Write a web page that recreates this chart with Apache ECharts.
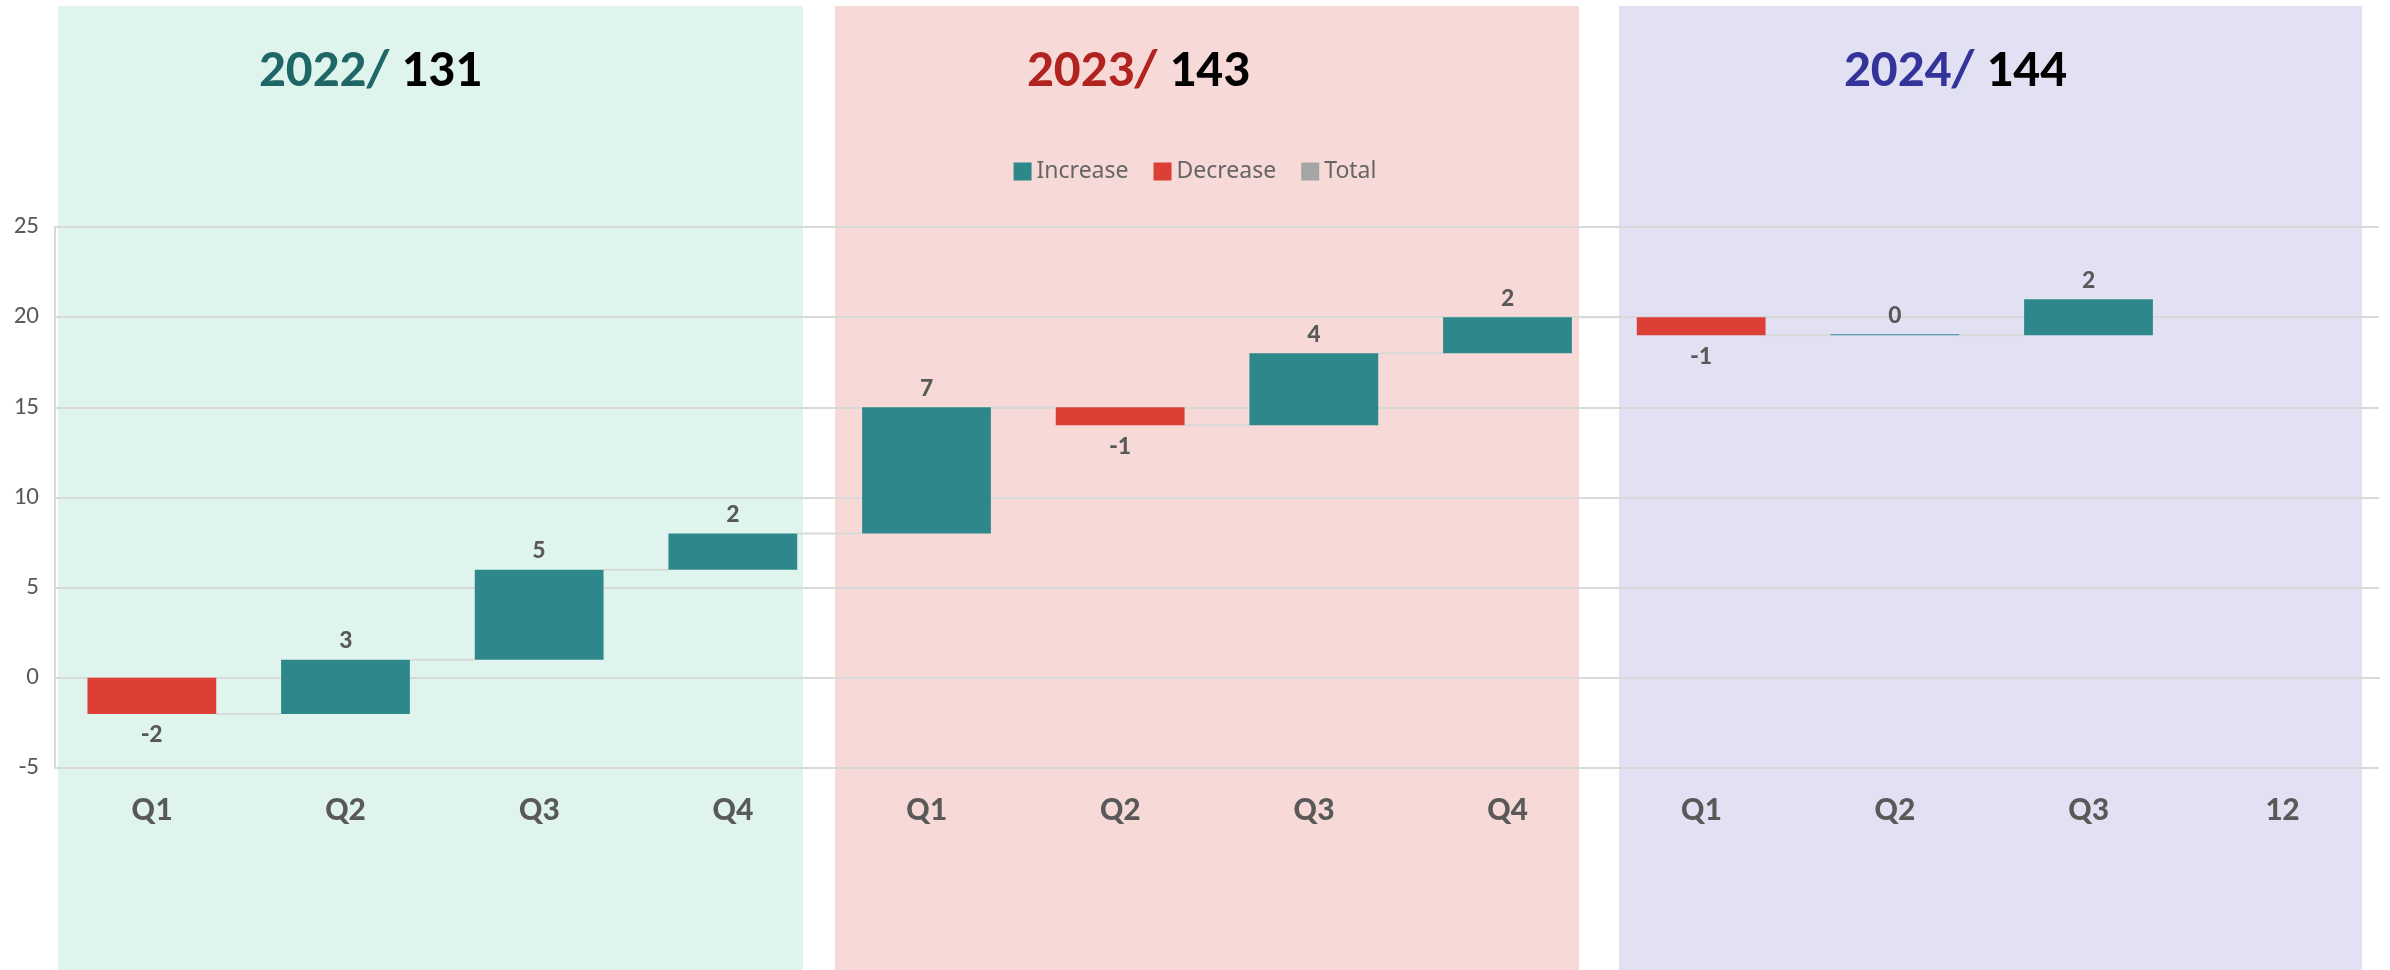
<!DOCTYPE html>
<html>
<head>
<meta charset="utf-8">
<script src="https://cdn.jsdelivr.net/npm/echarts@6/dist/echarts.min.js"></script>
<style>
  html, body { margin: 0; padding: 0; background: #fff; }
  #chart { width: 2390px; height: 970px; }
</style>
</head>
<body>
<div id="chart"></div>
<script>
// quarter labels along the x axis (last slot is an empty "12")
const categories = ['Q1', 'Q2', 'Q3', 'Q4', 'Q1', 'Q2', 'Q3', 'Q4', 'Q1', 'Q2', 'Q3', '12']
// change per quarter, null = no bar
const changes = [-2, 3, 5, 2, 7, -1, 4, 2, -1, 0, 2, null]
// year headers
const yearNames = ['2022/', '2023/', '2024/']
const yearTotals = ['131', '143', '144']
const yearColors = ['#1f6666', '#b0231e', '#333399']
const bandColors = ['#dff4ed', '#f7d9d7', '#e1e1f3']
const legendNames = ['Increase', 'Decrease', 'Total']

const condensed = "Carlito, 'Liberation Sans Narrow', 'Open Sans', sans-serif"
const labelGray = '#595959'
const lineGray = '#d9d9d9'

// empty slot inside the stack: keeps the stack sum valid, draws nothing
const emptyItem = () => ({ value: 0, itemStyle: { color: 'transparent' }, label: { show: false } })

// build the waterfall stacks
const baseData = []
const incData = []
const decData = []
const levels = []
let level = 0
for (let i = 0; i < changes.length; i++) {
  const c = changes[i]
  if (c === null) {
    baseData.push('-'); incData.push('-'); decData.push('-'); levels.push(null)
    continue
  }
  const end = level + c
  baseData.push(Math.min(level, end))
  incData.push(c >= 0 ? c : emptyItem())
  decData.push(c < 0 ? -c : emptyItem())
  level = end
  levels.push(end)
}
const connectors = []
for (let i = 0; i < levels.length - 1; i++) {
  if (levels[i] !== null && levels[i + 1] !== null) connectors.push([i, levels[i]])
}

const chart = echarts.init(document.getElementById('chart'))

const bands = [[58, 803], [835, 1579], [1619, 2362]]
const titleX = [259, 1027, 1844]
const graphics = []
bands.forEach((b, i) => {
  graphics.push({
    type: 'rect', z: -10, silent: true,
    shape: { x: b[0], y: 6, width: b[1] - b[0], height: 970 },
    style: { fill: bandColors[i] }
  })
  graphics.push({
    type: 'text', z: 10, x: titleX[i], y: 73,
    style: {
      text: '{y|' + yearNames[i] + ' }{n|' + yearTotals[i] + '}',
      verticalAlign: 'middle',
      rich: {
        y: { fontSize: 53, fontWeight: 'bold', fontFamily: condensed, fill: yearColors[i] },
        n: { fontSize: 53, fontWeight: 'bold', fontFamily: condensed, fill: '#000' }
      }
    }
  })
})

chart.setOption({
  animation: false,
  graphic: graphics,
  legend: {
    data: legendNames,
    top: 155,
    left: 'center',
    itemWidth: 18,
    itemHeight: 18,
    itemGap: 25,
    icon: 'rect',
    textStyle: { fontSize: 23, color: '#666', fontFamily: "'Noto Sans', sans-serif" }
  },
  grid: { left: 55, right: 11, top: 227, bottom: 202, containLabel: false },
  xAxis: {
    type: 'category',
    data: categories,
    axisLine: { show: true, lineStyle: { color: lineGray, width: 2 } },
    axisTick: { show: false },
    axisLabel: {
      margin: 26, fontSize: 34, fontWeight: 'bold', color: labelGray, fontFamily: condensed
    }
  },
  yAxis: {
    type: 'value',
    min: -5, max: 25, interval: 5,
    axisLine: { show: true, lineStyle: { color: lineGray, width: 2 } },
    axisLabel: { margin: 16, fontSize: 25, color: labelGray, fontFamily: condensed },
    splitLine: { lineStyle: { color: lineGray, width: 2 } }
  },
  series: [
    {
      name: 'base', type: 'bar', stack: 'w', stackStrategy: 'all',
      barWidth: '66.5%', silent: true,
      itemStyle: { color: 'transparent' },
      data: baseData
    },
    {
      name: 'Increase', type: 'bar', stack: 'w', stackStrategy: 'all',
      barMinHeight: 1,
      itemStyle: { color: '#2e878b' },
      label: {
        show: true, position: 'top', distance: 5,
        fontSize: 26, fontWeight: 'bold', color: labelGray, fontFamily: condensed
      },
      data: incData
    },
    {
      name: 'Decrease', type: 'bar', stack: 'w', stackStrategy: 'all',
      itemStyle: { color: '#dc3f35' },
      label: {
        show: true, position: 'bottom', distance: 9,
        formatter: p => '-' + p.value,
        fontSize: 26, fontWeight: 'bold', color: labelGray, fontFamily: condensed
      },
      data: decData
    },
    {
      name: 'Total', type: 'bar', stack: 'w', stackStrategy: 'all',
      itemStyle: { color: '#a5a5a5' },
      data: categories.map(() => '-')
    },
    {
      name: 'connector', type: 'custom', z: 1, silent: true,
      encode: { x: 0, y: 1 },
      renderItem(params, api) {
        const i = api.value(0)
        const lvl = api.value(1)
        const p0 = api.coord([i, lvl])
        const p1 = api.coord([i + 1, lvl])
        const half = api.size([1, 0])[0] * 0.3325
        return {
          type: 'line',
          shape: { x1: p0[0] + half, y1: p0[1], x2: p1[0] - half, y2: p1[1] },
          style: { stroke: lineGray, lineWidth: 2 }
        }
      },
      data: connectors
    }
  ]
})
</script>
</body>
</html>
